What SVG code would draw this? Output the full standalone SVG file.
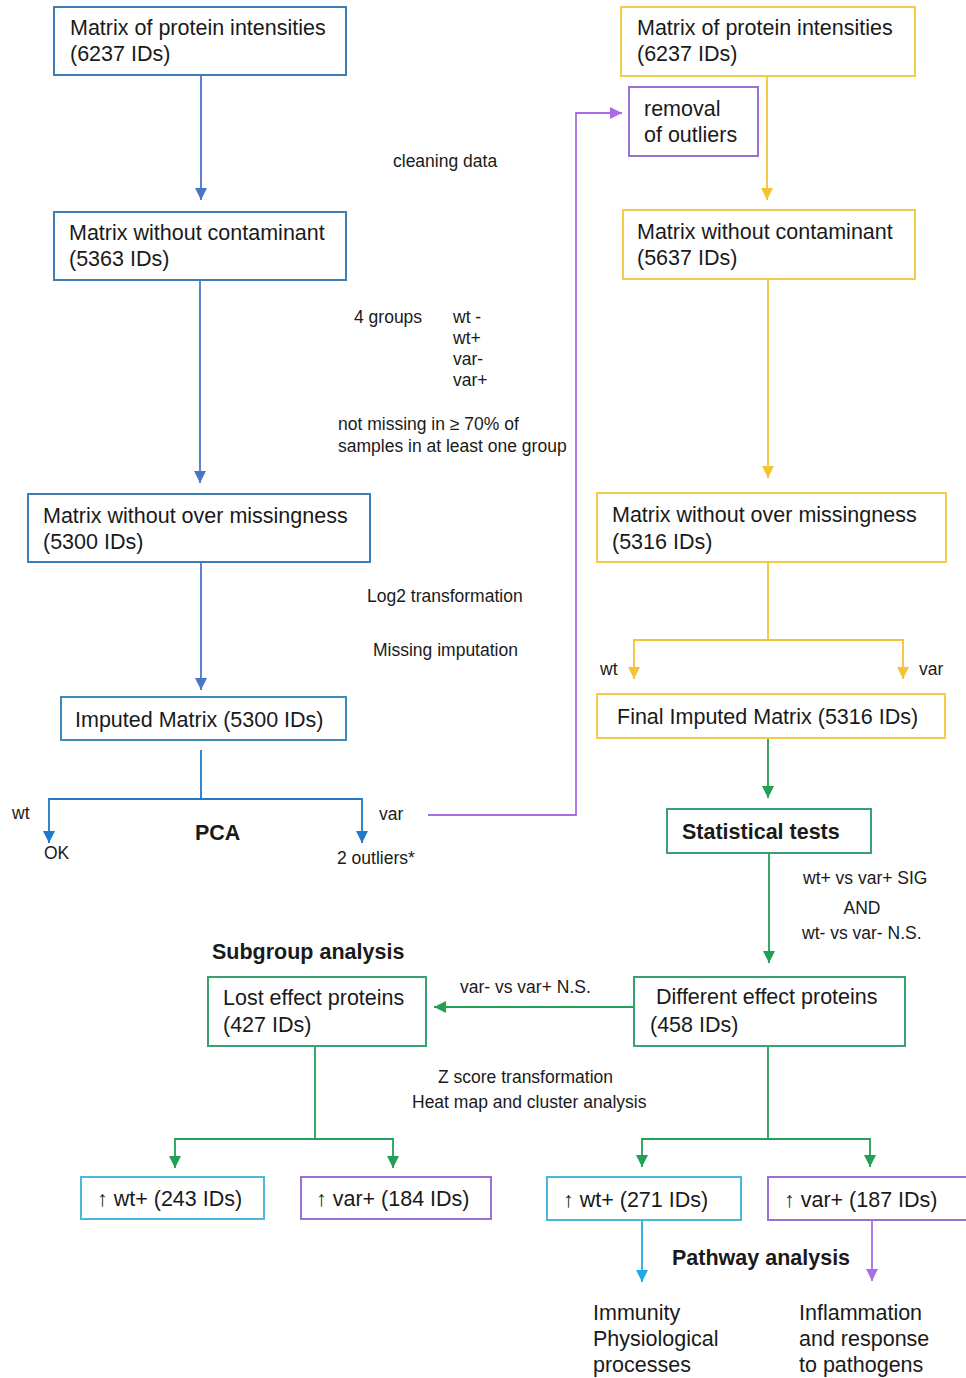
<svg xmlns="http://www.w3.org/2000/svg" width="966" height="1378" viewBox="0 0 966 1378">
<style>
text{font-family:"Liberation Sans",Arial,sans-serif;fill:#1a1a1a}
.bt{font-size:21.5px}
.bb{font-size:21.5px;font-weight:bold}
.lb{font-size:17.5px}
rect{fill:#fff;stroke-width:2}
.sb{stroke:#3d7fb5}
.si{stroke:#3e8ab5}
.sy{stroke:#f5cb45}
.sp{stroke:#9b6fd6}
.sg{stroke:#3aa070}
.sc{stroke:#4ab8d8}
.c{fill:none;stroke-width:1.8}
.cb{stroke:#4a76c8;marker-end:url(#mb)}
.cp0{stroke:#1f78c8}
.cpa{stroke:#1f78c8;marker-end:url(#mp)}
.cy0{stroke:#f5c233}
.cy{stroke:#f5c233;marker-end:url(#my)}
.cg0{stroke:#22a055}
.cg{stroke:#22a055;marker-end:url(#mg)}
.cv{stroke:#a86de6;marker-end:url(#mv)}
.cc{stroke:#20a8ea;marker-end:url(#mc)}
</style>
<defs>
<marker id="mb" viewBox="0 0 10 10" refX="10" refY="5" markerWidth="12" markerHeight="12" markerUnits="userSpaceOnUse" orient="auto"><path d="M0,0L10,5L0,10z" fill="#4a76c8"/></marker>
<marker id="mp" viewBox="0 0 10 10" refX="10" refY="5" markerWidth="12" markerHeight="12" markerUnits="userSpaceOnUse" orient="auto"><path d="M0,0L10,5L0,10z" fill="#1f78c8"/></marker>
<marker id="my" viewBox="0 0 10 10" refX="10" refY="5" markerWidth="12" markerHeight="12" markerUnits="userSpaceOnUse" orient="auto"><path d="M0,0L10,5L0,10z" fill="#f5c233"/></marker>
<marker id="mg" viewBox="0 0 10 10" refX="10" refY="5" markerWidth="12" markerHeight="12" markerUnits="userSpaceOnUse" orient="auto"><path d="M0,0L10,5L0,10z" fill="#22a055"/></marker>
<marker id="mv" viewBox="0 0 10 10" refX="10" refY="5" markerWidth="12" markerHeight="12" markerUnits="userSpaceOnUse" orient="auto"><path d="M0,0L10,5L0,10z" fill="#a86de6"/></marker>
<marker id="mc" viewBox="0 0 10 10" refX="10" refY="5" markerWidth="12" markerHeight="12" markerUnits="userSpaceOnUse" orient="auto"><path d="M0,0L10,5L0,10z" fill="#20a8ea"/></marker>
</defs>
<rect x="0" y="0" width="966" height="1378" style="fill:#fff;stroke:none"/>

<g id="connectors">
<path class="c cb" d="M201,75V200"/>
<path class="c cb" d="M200,280V483"/>
<path class="c cb" d="M201,562V690"/>
<path class="c cp0" d="M201,750V799"/>
<path class="c cpa" d="M201,799H49V843"/>
<path class="c cpa" d="M201,799H362V843"/>
<path class="c cv" d="M428,815H576V113H622"/>
<path class="c cy" d="M767,76V200"/>
<path class="c cy" d="M768,279V478"/>
<path class="c cy0" d="M768,562V640"/>
<path class="c cy" d="M768,640H634V679"/>
<path class="c cy" d="M768,640H903V679"/>
<path class="c cg" d="M768,738V798"/>
<path class="c cg" d="M769,853V963"/>
<path class="c cg" d="M634,1007H434"/>
<path class="c cg0" d="M315,1042V1139"/>
<path class="c cg" d="M315,1139H175V1168"/>
<path class="c cg" d="M315,1139H393V1168"/>
<path class="c cg0" d="M768,1046V1139"/>
<path class="c cg" d="M768,1139H642V1167"/>
<path class="c cg" d="M768,1139H870V1167"/>
<path class="c cc" d="M642,1220V1282"/>
<path class="c cv" d="M872,1220V1281"/>
</g>

<g id="n-left-intensities"><rect class="sb" x="54" y="7" width="292" height="68"/><text class="bt" x="70" y="35">Matrix of protein intensities</text><text class="bt" x="70" y="61">(6237 IDs)</text></g>
<g id="n-left-contaminant"><rect class="sb" x="54" y="212" width="292" height="68"/><text class="bt" x="69" y="240">Matrix without contaminant</text><text class="bt" x="69" y="266">(5363 IDs)</text></g>
<g id="n-left-missingness"><rect class="sb" x="28" y="494" width="342" height="68"/><text class="bt" x="43" y="523">Matrix without over missingness</text><text class="bt" x="43" y="549">(5300 IDs)</text></g>
<g id="n-left-imputed"><rect class="si" x="61" y="697" width="285" height="43"/><text class="bt" x="75" y="727">Imputed Matrix (5300 IDs)</text></g>

<g id="n-right-intensities"><rect class="sy" x="621" y="7" width="294" height="69"/><text class="bt" x="637" y="35">Matrix of protein intensities</text><text class="bt" x="637" y="61">(6237 IDs)</text></g>
<g id="n-removal"><rect class="sp" x="629" y="87" width="129" height="69"/><text class="bt" x="644" y="116">removal</text><text class="bt" x="644" y="142">of outliers</text></g>
<g id="n-right-contaminant"><rect class="sy" x="623" y="210" width="292" height="69"/><text class="bt" x="637" y="239">Matrix without contaminant</text><text class="bt" x="637" y="265">(5637 IDs)</text></g>
<g id="n-right-missingness"><rect class="sy" x="597" y="493" width="349" height="69"/><text class="bt" x="612" y="522">Matrix without over missingness</text><text class="bt" x="612" y="549">(5316 IDs)</text></g>
<g id="n-final-imputed"><rect class="sy" x="597" y="694" width="348" height="44"/><text class="bt" x="617" y="724">Final Imputed Matrix (5316 IDs)</text></g>
<g id="n-statistical"><rect class="sg" x="667" y="809" width="204" height="44"/><text class="bb" x="682" y="839">Statistical tests</text></g>
<g id="n-different"><rect class="sg" x="634" y="977" width="271" height="69"/><text class="bt" x="656" y="1004">Different effect proteins</text><text class="bt" x="650" y="1032">(458 IDs)</text></g>
<g id="n-lost"><rect class="sg" x="208" y="977" width="218" height="69"/><text class="bt" x="223" y="1005">Lost effect proteins</text><text class="bt" x="223" y="1032">(427 IDs)</text></g>
<g id="n-lost-wt"><rect class="sc" x="81" y="1177" width="183" height="42"/><text class="bt" x="97" y="1206">↑ wt+ (243 IDs)</text></g>
<g id="n-lost-var"><rect class="sp" x="301" y="1177" width="190" height="42"/><text class="bt" x="316" y="1206">↑ var+ (184 IDs)</text></g>
<g id="n-diff-wt"><rect class="sc" x="547" y="1177" width="194" height="43"/><text class="bt" x="563" y="1207">↑ wt+ (271 IDs)</text></g>
<g id="n-diff-var"><rect class="sp" x="768" y="1177" width="202" height="43"/><text class="bt" x="784" y="1207">↑ var+ (187 IDs)</text></g>
<g id="n-immunity"><text class="bt" x="593" y="1320">Immunity</text><text class="bt" x="593" y="1346">Physiological</text><text class="bt" x="593" y="1372">processes</text></g>
<g id="n-inflammation"><text class="bt" x="799" y="1320">Inflammation</text><text class="bt" x="799" y="1346">and response</text><text class="bt" x="799" y="1372">to pathogens</text></g>
<g id="n-ok"><text class="lb" x="44" y="859">OK</text></g>
<g id="n-outliers"><text class="lb" x="337" y="864">2 outliers*</text></g>

<g id="labels">
<text class="lb" x="393" y="167">cleaning data</text>
<text class="lb" x="354" y="323">4 groups</text>
<text class="lb" x="453" y="323">wt -</text>
<text class="lb" x="453" y="344">wt+</text>
<text class="lb" x="453" y="365">var-</text>
<text class="lb" x="453" y="386">var+</text>
<text class="lb" x="338" y="430">not missing in ≥ 70% of</text>
<text class="lb" x="338" y="452">samples in at least one group</text>
<text class="lb" x="367" y="602">Log2 transformation</text>
<text class="lb" x="373" y="656">Missing imputation</text>
<text class="lb" x="12" y="819">wt</text>
<text class="bb" x="195" y="840">PCA</text>
<text class="lb" x="379" y="820">var</text>
<text class="lb" x="600" y="675">wt</text>
<text class="lb" x="919" y="675">var</text>
<text class="lb" x="803" y="884">wt+ vs var+ SIG</text>
<text class="lb" x="862" y="914" text-anchor="middle">AND</text>
<text class="lb" x="802" y="939">wt- vs var- N.S.</text>
<text class="bb" x="212" y="959">Subgroup analysis</text>
<text class="lb" x="460" y="993">var- vs var+ N.S.</text>
<text class="lb" x="438" y="1083">Z score transformation</text>
<text class="lb" x="412" y="1108">Heat map and cluster analysis</text>
<text class="bb" x="672" y="1265">Pathway analysis</text>
</g>
</svg>
